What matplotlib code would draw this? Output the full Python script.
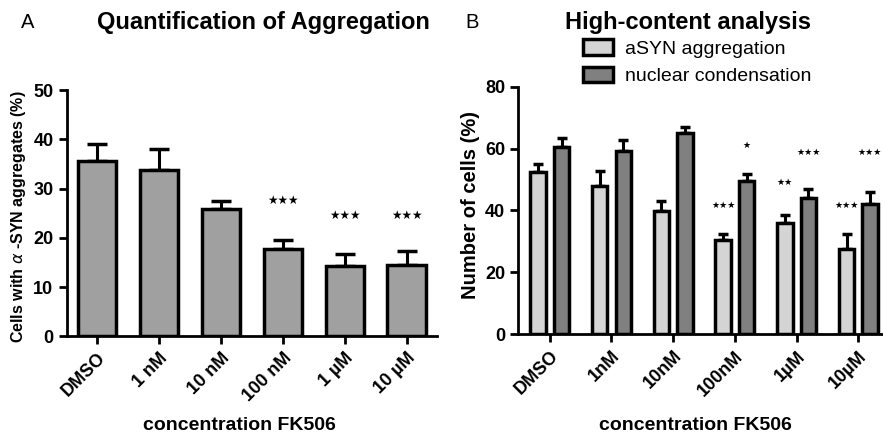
import numpy as np
import matplotlib
matplotlib.use("Agg")
import matplotlib.pyplot as plt
from matplotlib.patches import Patch

plt.rcParams["font.family"] = ["Liberation Sans", "DejaVu Sans"]

# panel A
conc_a = ["DMSO", "1 nM", "10 nM", "100 nM", "1 µM", "10 µM"]
agg_mean = [35.5, 33.8, 25.9, 17.7, 14.2, 14.5]
agg_sem = [3.5, 4.2, 1.6, 1.9, 2.5, 2.9]
agg_sig = ["", "", "", "★★★", "★★★", "★★★"]
agg_sig_y = [0, 0, 0, 27.5, 24.5, 24.5]

# panel B
conc_b = ["DMSO", "1nM", "10nM", "100nM", "1µM", "10µM"]
asyn_mean = [52.5, 48.0, 39.9, 30.3, 35.9, 27.5]
asyn_sem = [2.4, 4.9, 3.2, 2.1, 2.6, 4.8]
nuc_mean = [60.6, 59.3, 64.9, 49.5, 43.9, 42.1]
nuc_sem = [2.7, 3.3, 1.9, 2.2, 2.9, 3.7]
asyn_sig = ["", "", "", "★★★", "★★", "★★★"]
asyn_sig_y = [0, 0, 0, 41.5, 49.0, 41.5]
nuc_sig = ["", "", "", "★", "★★★", "★★★"]
nuc_sig_y = [0, 0, 0, 61.0, 58.8, 58.8]


def style_axes(ax, labels):
    for s in ["top", "right"]:
        ax.spines[s].set_visible(False)
    for s in ["left", "bottom"]:
        ax.spines[s].set_linewidth(2)
    ax.tick_params(width=2, length=6, labelsize=13)
    ax.set_xticks(range(len(labels)))
    ax.set_xticklabels(labels, rotation=45, ha="right", rotation_mode="anchor",
                       fontsize=13, fontweight="bold")
    for t in ax.get_yticklabels():
        t.set_fontweight("bold")


fig = plt.figure(figsize=(8.83, 4.33), dpi=100)

# ---- A ----
ax1 = fig.add_axes([0.0755, 0.2229, 0.4194, 0.5692])
x = np.arange(len(conc_a))
ax1.errorbar(x, agg_mean, yerr=[np.zeros(len(x)), agg_sem], fmt="none", ecolor="k",
             elinewidth=2.2, capsize=7.5, capthick=2.5, zorder=2)
ax1.bar(x, agg_mean, width=0.62, color="#a0a0a0", edgecolor="k", linewidth=2.5, zorder=3)
for i in range(len(x)):
    if agg_sig[i]:
        ax1.text(x[i], agg_sig_y[i], agg_sig[i], ha="center", va="center",
                 fontsize=8.5, family="DejaVu Sans")
ax1.set_xlim(-0.49, 5.49)
ax1.set_ylim(0, 50)
ax1.set_yticks([0, 10, 20, 30, 40, 50])
style_axes(ax1, conc_a)

# ---- B ----
ax2 = fig.add_axes([0.587, 0.228, 0.413, 0.572])
x = np.arange(len(conc_b))
off = 0.19
ax2.errorbar(x - off, asyn_mean, yerr=[np.zeros(len(x)), asyn_sem], fmt="none", ecolor="k",
             elinewidth=2.2, capsize=3.6, capthick=2.5, zorder=2)
ax2.errorbar(x + off, nuc_mean, yerr=[np.zeros(len(x)), nuc_sem], fmt="none", ecolor="k",
             elinewidth=2.2, capsize=3.6, capthick=2.5, zorder=2)
ax2.bar(x - off, asyn_mean, width=0.25, color="#d4d4d4", edgecolor="k", linewidth=2.5, zorder=3)
ax2.bar(x + off, nuc_mean, width=0.25, color="#808080", edgecolor="k", linewidth=2.5, zorder=3)
for i in range(len(x)):
    if asyn_sig[i]:
        ax2.text(x[i] - off, asyn_sig_y[i], asyn_sig[i], ha="center", va="center",
                 fontsize=6.5, family="DejaVu Sans")
    if nuc_sig[i]:
        ax2.text(x[i] + off, nuc_sig_y[i], nuc_sig[i], ha="center", va="center",
                 fontsize=6.5, family="DejaVu Sans")
ax2.set_xlim(-0.51, 5.4)
ax2.set_ylim(0, 80)
ax2.set_yticks([0, 20, 40, 60, 80])
style_axes(ax2, conc_b)

handles = [Patch(facecolor="#d4d4d4", edgecolor="k", linewidth=2.5),
           Patch(facecolor="#808080", edgecolor="k", linewidth=2.5)]
fig.legend(handles, ["aSYN aggregation", "nuclear condensation"], loc="center left",
           bbox_to_anchor=(0.660, 0.856), frameon=False, fontsize=14,
           handlelength=1.55, handleheight=0.85, handletextpad=0.6,
           labelspacing=0.45, borderpad=0, borderaxespad=0)

# text
fig.text(263 / 883, 0.947, "Quantification of Aggregation", ha="center", va="center",
         fontsize=17, fontweight="bold")
fig.text(688 / 883, 0.947, "High-content analysis", ha="center", va="center",
         fontsize=17, fontweight="bold")
fig.text(28 / 883, 0.947, "A", ha="center", va="center", fontsize=14.5)
fig.text(472 / 883, 0.947, "B", ha="center", va="center", fontsize=14.5)
fig.text(0.0215, 0.5, r"Cells with $\alpha$ -SYN aggregates (%)", rotation=90,
         ha="center", va="center", fontsize=11.5, fontweight="bold")
fig.text(471 / 883, 0.527, "Number of cells (%)", rotation=90,
         ha="center", va="center", fontsize=14.5, fontweight="bold")
fig.text(239 / 883, 0.018, "concentration FK506", ha="center", va="center",
         fontsize=14, fontweight="bold")
fig.text(695 / 883, 0.018, "concentration FK506", ha="center", va="center",
         fontsize=14, fontweight="bold")

plt.savefig("out.png", dpi=100)
